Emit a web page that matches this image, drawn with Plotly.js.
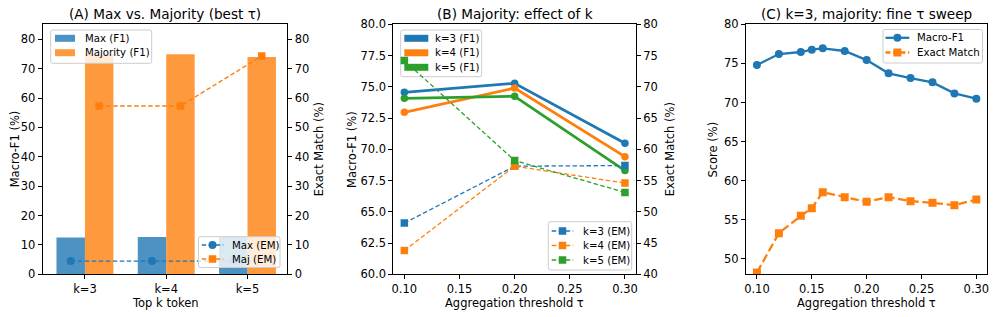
<!DOCTYPE html>
<html>
<head>
<meta charset="utf-8">
<script src="https://cdn.plot.ly/plotly-3.0.1.min.js"></script>
<style>html,body{margin:0;padding:0;background:#fff;}#chart{width:997px;height:317px;}</style>
</head>
<body>
<div id="chart"></div>
<script>
// ---------- Data ----------
// Panel A
const kLabels = ['k=3', 'k=4', 'k=5'];
const maxF1 = [12.5, 12.7, 12.7];
const majF1 = [74.8, 74.9, 74.0];
const maxEM = [4.5, 4.5, 4.5];
const majEM = [57.3, 57.3, 74.3];
const namesA = ['Max (F1)', 'Majority (F1)', 'Max (EM)', 'Maj (EM)'];
// Panel B
const tauB = [0.10, 0.20, 0.30];
const k3F1 = [74.56, 75.28, 70.48];
const k4F1 = [72.96, 74.90, 69.41];
const k5F1 = [74.08, 74.24, 68.30];
const k3EM = [48.2, 57.3, 57.4];
const k4EM = [43.8, 57.3, 54.6];
const k5EM = [74.2, 58.2, 53.1];
const namesBF1 = ['k=3 (F1)', 'k=4 (F1)', 'k=5 (F1)'];
const namesBEM = ['k=3 (EM)', 'k=4 (EM)', 'k=5 (EM)'];
// Panel C
const tauC = [0.10, 0.12, 0.14, 0.15, 0.16, 0.18, 0.20, 0.22, 0.24, 0.26, 0.28, 0.30];
const cF1 = [74.8, 76.2, 76.46, 76.76, 76.93, 76.59, 75.43, 73.73, 73.13, 72.58, 71.17, 70.49];
const cEM = [48.26, 53.3, 55.51, 56.49, 58.54, 57.9, 57.3, 57.9, 57.39, 57.18, 56.88, 57.6];
const namesC = ['Macro-F1', 'Exact Match'];

// ---------- Styles ----------
const BLUE = '#1f77b4', ORANGE = '#ff7f0e', GREEN = '#2ca02c';
const FONT = 'DejaVu Sans, Verdana, sans-serif';
const TICKF = {family: FONT, size: 11.5, color: '#000'};
const LEGF = {family: FONT, size: 10.2, color: '#000'};
const TITLEF = {family: FONT, size: 13.6, color: '#000'};
const LABF = {family: FONT, size: 11.5, color: '#000'};
const barW = 0.35;
const kIdx = kLabels.map((_, i) => i);
const W = 997, H = 317;
const DASH_THIN = '4.5px,2.5px';
const DASH_C = '8.5px,3.7px';

const traces = [];
// Panel A bars
traces.push({type: 'bar', x: kIdx.map(i => i - barW / 2), y: maxF1, width: barW, name: namesA[0],
  marker: {color: BLUE, opacity: 0.8, line: {width: 0}}, xaxis: 'x', yaxis: 'y'});
traces.push({type: 'bar', x: kIdx.map(i => i + barW / 2), y: majF1, width: barW, name: namesA[1],
  marker: {color: ORANGE, opacity: 0.8, line: {width: 0}}, xaxis: 'x', yaxis: 'y'});
// Panel A EM lines
traces.push({type: 'scatter', mode: 'lines+markers', x: kIdx.map(i => i - barW / 2), y: maxEM, name: namesA[2],
  line: {color: BLUE, width: 1.4, dash: DASH_THIN}, marker: {symbol: 'circle', size: 8, color: BLUE},
  xaxis: 'x', yaxis: 'y2'});
traces.push({type: 'scatter', mode: 'lines+markers', x: kIdx.map(i => i + barW / 2), y: majEM, name: namesA[3],
  line: {color: ORANGE, width: 1.4, dash: DASH_THIN}, marker: {symbol: 'square', size: 7.5, color: ORANGE},
  xaxis: 'x', yaxis: 'y2'});

// Panel B
const colsB = [BLUE, ORANGE, GREEN];
[k3F1, k4F1, k5F1].forEach((ys, i) => {
  traces.push({type: 'scatter', mode: 'lines+markers', x: tauB, y: ys, name: namesBF1[i],
    line: {color: colsB[i], width: 2.8}, marker: {symbol: 'circle', size: 7.5, color: colsB[i]},
    xaxis: 'x2', yaxis: 'y3'});
});
[k3EM, k4EM, k5EM].forEach((ys, i) => {
  traces.push({type: 'scatter', mode: 'lines+markers', x: tauB, y: ys, name: namesBEM[i],
    line: {color: colsB[i], width: 1.3, dash: DASH_THIN}, marker: {symbol: 'square', size: 7.5, color: colsB[i]},
    xaxis: 'x2', yaxis: 'y4'});
});

// Panel C
traces.push({type: 'scatter', mode: 'lines+markers', x: tauC, y: cF1, name: namesC[0],
  line: {color: BLUE, width: 2.3}, marker: {symbol: 'circle', size: 8, color: BLUE},
  xaxis: 'x3', yaxis: 'y5'});
traces.push({type: 'scatter', mode: 'lines+markers', x: tauC, y: cEM, name: namesC[1],
  line: {color: ORANGE, width: 2.3, dash: DASH_C}, marker: {symbol: 'square', size: 8, color: ORANGE},
  xaxis: 'x3', yaxis: 'y5'});

// ---------- Layout ----------
const Y_DOM = [0.1347, 0.9233];
function ax(extra) {
  return Object.assign({
    showline: true, linecolor: '#000', linewidth: 1, ticks: 'outside', ticklen: 4, tickwidth: 1,
    tickcolor: '#000', tickfont: TICKF, showgrid: false, zeroline: false, fixedrange: true
  }, extra);
}
const tauTicks = [0.10, 0.15, 0.20, 0.25, 0.30];

const layout = {
  width: W, height: H, margin: {l: 0, r: 0, t: 0, b: 0},
  paper_bgcolor: '#fff', plot_bgcolor: 'rgba(0,0,0,0)',
  font: {family: FONT, color: '#000'},
  showlegend: false,
  barmode: 'overlay',
  xaxis: ax({domain: [0.0428, 0.2882], range: [-0.52, 2.49], tickvals: kIdx, ticktext: kLabels, mirror: true, anchor: 'y'}),
  yaxis: ax({domain: Y_DOM, range: [0, 85.1], dtick: 10, tick0: 0, anchor: 'x'}),
  yaxis2: ax({overlaying: 'y', side: 'right', range: [0, 85.1], dtick: 10, tick0: 0, anchor: 'x'}),
  xaxis2: ax({domain: [0.3945, 0.6379], range: [0.09, 0.31], tickvals: tauTicks, tickformat: '.2f', mirror: true, anchor: 'y3'}),
  yaxis3: ax({domain: Y_DOM, range: [60, 80], dtick: 2.5, tick0: 60, tickformat: '.1f', anchor: 'x2'}),
  yaxis4: ax({overlaying: 'y3', side: 'right', range: [40, 80], dtick: 5, tick0: 40, anchor: 'x2'}),
  xaxis3: ax({domain: [0.7482, 0.9903], range: [0.09, 0.31], tickvals: tauTicks, tickformat: '.2f', mirror: true, anchor: 'y5'}),
  yaxis5: ax({domain: Y_DOM, range: [48.04, 80], dtick: 5, tick0: 50, mirror: true, anchor: 'x3'}),
  annotations: [],
  shapes: []
};

function px(x) { return x / W; }
function py(y) { return 1 - y / H; }
function ann(text, xpx, ypx, font, angle, xanchor) {
  layout.annotations.push({text: text, x: px(xpx), y: py(ypx), xref: 'paper', yref: 'paper',
    xanchor: xanchor || 'center', yanchor: 'middle', showarrow: false, font: font, textangle: angle || 0});
}
ann('(A) Max vs. Majority (best τ)', 165, 14, TITLEF);
ann('(B) Majority: effect of k', 514.7, 14, TITLEF);
ann('(C) k=3, majority: fine τ sweep', 866.7, 14, TITLEF);
ann('Top k token', 165, 302.5, LABF);
ann('Aggregation threshold τ', 514.7, 302.5, LABF);
ann('Aggregation threshold τ', 866.7, 302.5, LABF);
ann('Macro-F1 (%)', 15, 149.3, LABF, -90);
ann('Exact Match (%)', 319, 149.3, LABF, -90);
ann('Macro-F1 (%)', 352.7, 149.3, LABF, -90);
ann('Exact Match (%)', 670, 149.3, LABF, -90);
ann('Score (%)', 713.3, 149.3, LABF, -90);

// ---------- Legends (matplotlib-style, drawn as paper shapes + text) ----------
function shp(s, layer) { s.xref = 'paper'; s.yref = 'paper'; s.layer = layer || 'above'; layout.shapes.push(s); }
function legendBox(x0, x1, y0, y1, layer) {
  const r = 2;
  const p = `M${px(x0 + r)},${py(y0)} L${px(x1 - r)},${py(y0)} Q${px(x1)},${py(y0)} ${px(x1)},${py(y0 + r)} ` +
    `L${px(x1)},${py(y1 - r)} Q${px(x1)},${py(y1)} ${px(x1 - r)},${py(y1)} L${px(x0 + r)},${py(y1)} ` +
    `Q${px(x0)},${py(y1)} ${px(x0)},${py(y1 - r)} L${px(x0)},${py(y0 + r)} Q${px(x0)},${py(y0)} ${px(x0 + r)},${py(y0)} Z`;
  shp({type: 'path', path: p, fillcolor: 'rgba(255,255,255,0.8)', line: {color: '#cccccc', width: 1}}, layer);
}
function legPatch(hx0, hx1, y, color, text, tx) {
  shp({type: 'rect', x0: px(hx0), x1: px(hx1), y0: py(y - 3.5), y1: py(y + 3.5),
    fillcolor: color, opacity: 0.8, line: {width: 0}});
  ann(text, tx, y, LEGF, 0, 'left');
}
function legLine(hx0, hx1, y, color, lw, dash, marker, msize, text, tx, layer) {
  shp({type: 'line', x0: px(hx0), x1: px(hx1), y0: py(y), y1: py(y), line: {color: color, width: lw, dash: dash || 'solid'}}, layer);
  if (marker) {
    const cx = (hx0 + hx1) / 2, h = msize / 2;
    shp({type: marker === 'circle' ? 'circle' : 'rect', x0: px(cx - h), x1: px(cx + h), y0: py(y - h), y1: py(y + h),
      fillcolor: color, line: {width: 0}}, layer);
  }
  ann(text, tx, y, LEGF, 0, 'left');
}
// A upper-left
legendBox(50.7, 151.7, 30, 63.3);
legPatch(55, 75, 38.3, BLUE, namesA[0], 82.5);
legPatch(55, 75, 52.7, ORANGE, namesA[1], 82.5);
// A lower-right
legendBox(198.5, 280, 236.7, 267.5);
legLine(201.7, 223.3, 245, BLUE, 1.4, DASH_THIN, 'circle', 8, namesA[2], 229.5);
legLine(201.7, 223.3, 259, ORANGE, 1.4, DASH_THIN, 'square', 7.5, namesA[3], 229.5);
// B upper-left (drawn beneath the twin-axis EM lines, as in the original)
legendBox(400.7, 481.7, 30, 76.7, 'below');
namesBF1.forEach((n, i) => legLine(404.3, 428.3, 38.3 + i * 14.5, colsB[i], 7, null, null, 0, n, 432.8, 'below'));
// B lower-right
legendBox(548.3, 631.7, 221.7, 270);
namesBEM.forEach((n, i) => legLine(551.7, 573.3, 231 + i * 14.5, colsB[i], 1.3, DASH_THIN, 'square', 7.5, n, 580.5));
// C upper-right
legendBox(883, 982.5, 29.5, 63);
legLine(885.5, 909.3, 37.8, BLUE, 2.3, null, 'circle', 8, namesC[0], 915);
legLine(885.5, 909.3, 52.5, ORANGE, 2.3, '5px,2.5px', 'square', 8, namesC[1], 915);

Plotly.newPlot('chart', traces, layout, {staticPlot: true, displayModeBar: false});
</script>
</body>
</html>
